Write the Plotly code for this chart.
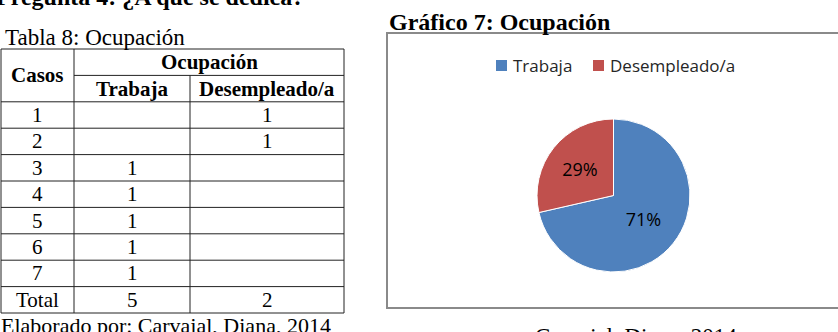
import plotly.graph_objects as go

# ---------------- data ----------------
question = "Pregunta 4: ¿A qué se dedica?"
table_title = "Tabla 8: Ocupación"
chart_title = "Gráfico 7: Ocupación"
row_header = "Casos"
group_header = "Ocupación"
col_headers = ["Trabaja", "Desempleado/a"]
cases = ["1", "2", "3", "4", "5", "6", "7"]
trabaja = ["", "", "1", "1", "1", "1", "1"]
desempleado = ["1", "1", "", "", "", "", ""]
total_label = "Total"
totals = ["5", "2"]
source_left = "Elaborado por: Carvajal, Diana, 2014"
source_right = "Carvajal, Diana, 2014"

pie_labels = ["Trabaja", "Desempleado/a"]
pie_values = [5, 2]
pie_colors = ["#4F81BD", "#C0504D"]

# ---------------- layout helpers ----------------
W, H = 838, 332
SERIF = "Liberation Serif"
SANS = "Open Sans"

col_edges = [1, 74, 190, 344]
row_top = 49
row_h = 26.4
n_rows = 2 + len(cases) + 1
row_lines = [row_top + i * row_h for i in range(n_rows + 1)]

shapes = []
annotations = []


def px(x):
    return x / W


def py(y):
    return 1 - y / H


def line(x0, y0, x1, y1, color="#222", width=1):
    shapes.append(dict(type="line", xref="paper", yref="paper", x0=px(x0), y0=py(y0),
                       x1=px(x1), y1=py(y1), line=dict(color=color, width=width)))


def text(x, y, s, size=21, bold=False, xanchor="center", family=SERIF, color="#000"):
    annotations.append(dict(x=px(x), y=py(y), xref="paper", yref="paper",
                            text=f"<b>{s}</b>" if bold else s,
                            showarrow=False, xanchor=xanchor, yanchor="middle",
                            font=dict(family=family, size=size, color=color)))


# table grid
shapes.append(dict(type="rect", xref="paper", yref="paper", x0=px(col_edges[0]), x1=px(col_edges[-1]),
                   y0=py(row_lines[0]), y1=py(row_lines[-1]), line=dict(color="#222", width=1)))
line(col_edges[1], row_lines[0], col_edges[1], row_lines[-1])
line(col_edges[2], row_lines[1], col_edges[2], row_lines[-1])
line(col_edges[1], row_lines[1], col_edges[-1], row_lines[1])
for yv in row_lines[2:-1]:
    line(col_edges[0], yv, col_edges[-1], yv)

col_centers = [(col_edges[i] + col_edges[i + 1]) / 2 for i in range(3)]


def mid(i):
    return (row_lines[i] + row_lines[i + 1]) / 2


# headers
text(col_centers[0], row_lines[1], row_header, bold=True)
text((col_edges[1] + col_edges[-1]) / 2, mid(0), group_header, bold=True)
for j, h in enumerate(col_headers):
    text(col_centers[j + 1], mid(1), h, bold=True)

# body
for i, c in enumerate(cases):
    r = i + 2
    text(col_centers[0], mid(r), c)
    if trabaja[i]:
        text(col_centers[1], mid(r), trabaja[i])
    if desempleado[i]:
        text(col_centers[2], mid(r), desempleado[i])
r = n_rows - 1
text(col_centers[0], mid(r), total_label)
text(col_centers[1], mid(r), totals[0])
text(col_centers[2], mid(r), totals[1])

# captions (partly cut by the page edges, as in the source page)
text(-6, -3, question, size=24, bold=True, xanchor="left")
text(3, 37, table_title, size=23, xanchor="left")
text(-1, 325, source_left, size=22, xanchor="left")
text(387, 22, chart_title, size=24, bold=True, xanchor="left")
text(533, 336, source_right, size=23, xanchor="left")

# chart box
shapes.append(dict(type="rect", xref="paper", yref="paper", x0=px(387), x1=px(W + 10),
                   y0=py(33), y1=py(308), line=dict(color="#8a8a8a", width=2), layer="below"))

# legend (drawn from pie labels / colours)
legend_x = [496, 593]
for lx, lab, col in zip(legend_x, pie_labels, pie_colors):
    shapes.append(dict(type="rect", xref="paper", yref="paper", x0=px(lx), x1=px(lx + 11),
                       y0=py(60), y1=py(71), fillcolor=col, line=dict(width=0)))
    text(lx + 15, 65, lab, size=17, family=SANS, color="#262626", xanchor="left")

# ---------------- figure ----------------
pie_cx, pie_cy, pie_r = 613.5, 195.5, 76.5
fig = go.Figure()
fig.add_trace(go.Pie(
    labels=pie_labels, values=pie_values, sort=False, direction="clockwise", rotation=0,
    marker=dict(colors=pie_colors, line=dict(color="white", width=1)),
    texttemplate="%{percent:.0%}", textposition="inside", insidetextorientation="horizontal",
    textfont=dict(family=SANS, size=18, color="#000"),
    domain=dict(x=[(pie_cx - pie_r) / W, (pie_cx + pie_r) / W],
                y=[1 - (pie_cy + pie_r) / H, 1 - (pie_cy - pie_r) / H]),
    hoverinfo="label+percent", showlegend=False,
))

fig.update_layout(
    width=W, height=H, margin=dict(l=0, r=0, t=0, b=0),
    paper_bgcolor="white", plot_bgcolor="white",
    xaxis=dict(visible=False, fixedrange=True),
    yaxis=dict(visible=False, fixedrange=True),
    shapes=shapes, annotations=annotations,
    showlegend=False,
)

fig.write_html("out.html")
